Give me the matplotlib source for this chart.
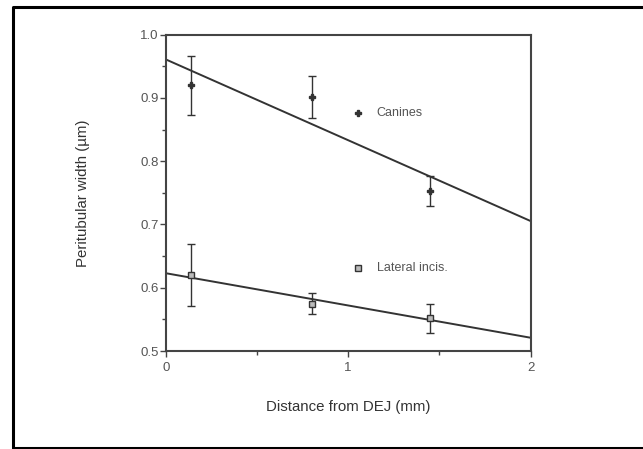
import matplotlib
matplotlib.use("Agg")
import matplotlib.pyplot as plt
from matplotlib.lines import Line2D

plt.rcParams['font.family'] = ['Liberation Sans', 'DejaVu Sans']

# Data
distance = [0.14, 0.80, 1.45]
canines = [0.920, 0.901, 0.753]
canines_err = [0.047, 0.033, 0.024]
lateral = [0.620, 0.575, 0.552]
lateral_err = [0.049, 0.017, 0.023]
fit_x = [0.0, 2.0]
canines_fit = [0.961, 0.7055]
lateral_fit = [0.623, 0.521]
legend_labels = ["Canines", "Lateral incis."]
legend_y = [0.877, 0.631]
xticks = [0, 1, 2]
yticks = [0.5, 0.6, 0.7, 0.8, 0.9, 1.0]
ytick_labels = ["0.5", "0.6", "0.7", "0.8", "0.9", "1.0"]

W, H = 643, 449
fig = plt.figure(figsize=(W / 100, H / 100), dpi=100)
ax = fig.add_axes([165.7 / W, 1 - 351 / H, (530.5 - 165.7) / W, (351 - 34.7) / H])

dark = "#333333"
txt = "#555555"

ax.plot(fit_x, canines_fit, color=dark, lw=1.4, solid_capstyle='butt')
ax.plot(fit_x, lateral_fit, color=dark, lw=1.4, solid_capstyle='butt')

ax.errorbar(distance, canines, yerr=canines_err, fmt='P', ms=4, color=dark,
            mec=dark, mfc=dark, ecolor=dark, elinewidth=1.0, capsize=3, capthick=1.0)
ax.errorbar(distance, lateral, yerr=lateral_err, fmt='s', ms=4, color=dark,
            mec=dark, mfc='#bbbbbb', ecolor=dark, elinewidth=1.0, capsize=3, capthick=1.0)

# in-plot legend
ax.plot([1.057], [legend_y[0]], marker='P', ms=4, color=dark, ls='none')
ax.plot([1.057], [legend_y[1]], marker='s', ms=4, mec=dark, mfc='#bbbbbb', ls='none')
for lab, yy in zip(legend_labels, legend_y):
    ax.text(1.156, yy, lab, fontsize=9, color=txt, va='center', ha='left')

ax.set_xlim(0, 2)
ax.set_ylim(0.5, 1.0)
ax.set_xticks(xticks)
ax.set_xticks([0.5, 1.5], minor=True)
ax.set_yticks(yticks)
ax.set_yticklabels(ytick_labels)
ax.set_yticks([0.55, 0.65, 0.75, 0.85, 0.95], minor=True)

for s in ax.spines.values():
    s.set_color("#444444")
    s.set_linewidth(1.5)

ax.tick_params(axis='both', which='major', direction='out', length=4, width=1.0,
               color="#444444", labelsize=9.5, labelcolor=txt, pad=1)
ax.tick_params(axis='both', which='minor', direction='out', length=3, width=1.0,
               color="#444444")
ax.tick_params(axis='x', which='major', pad=4)

ax.set_xlabel("Distance from DEJ (mm)", fontsize=10.8, color="#333333", labelpad=19)
ax.set_ylabel("Peritubular width (\u00b5m)", fontsize=10.8, color="#333333", labelpad=36)

# outer frame (right edge beyond image)
fx = lambda p: p / W
fy = lambda p: 1 - p / H
frame = Line2D([fx(W + 5), fx(12.5), fx(12.5), fx(W + 5)],
               [fy(7), fy(7), fy(447.5), fy(447.5)],
               transform=fig.transFigure, color='black', lw=2.2)
fig.add_artist(frame)

fig.savefig("out.png", dpi=100, facecolor='white')
